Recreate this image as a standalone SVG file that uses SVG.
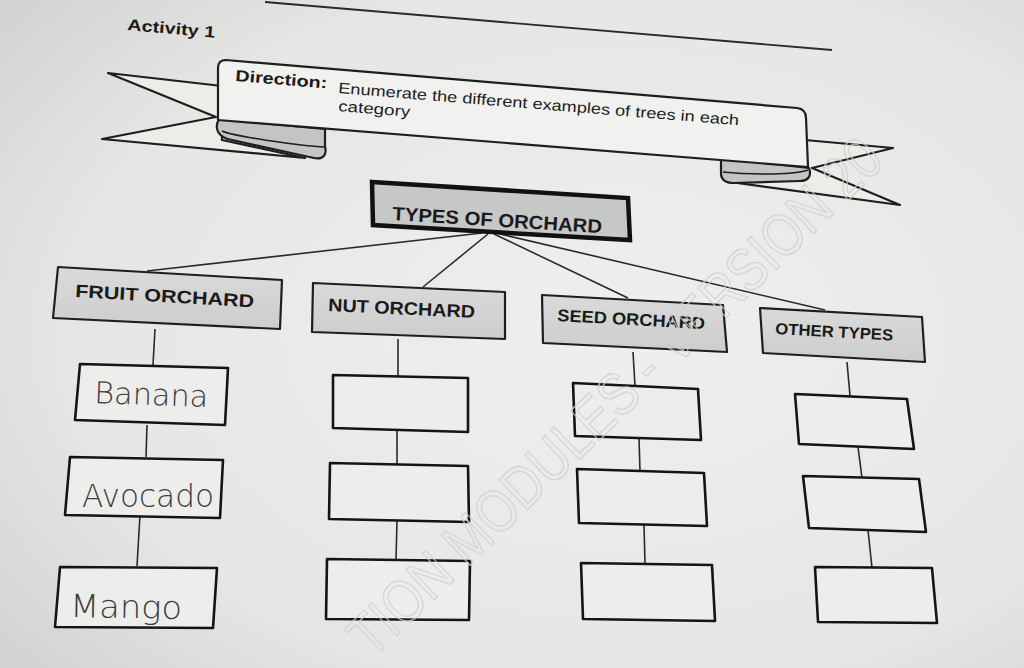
<svg xmlns="http://www.w3.org/2000/svg" width="1024" height="668" viewBox="0 0 1024 668">
<defs>
<radialGradient id="paper" cx="0.6" cy="0.5" r="0.75">
<stop offset="0" stop-color="#efefed"/>
<stop offset="0.7" stop-color="#e6e6e4"/>
<stop offset="1" stop-color="#d4d4d2"/>
</radialGradient>
<linearGradient id="catfill" x1="0" y1="0" x2="0" y2="1">
<stop offset="0" stop-color="#dadada"/>
<stop offset="1" stop-color="#cdcdcd"/>
</linearGradient>
<style>
.lbl{font-family:"Liberation Sans",Arial,sans-serif;font-weight:bold;fill:#1a1a1a}
.txt{font-family:"Liberation Sans",Arial,sans-serif;fill:#1e1e1e}
.hand{font-family:"DejaVu Sans",sans-serif;font-weight:200;fill:#3c3c3c}
.cat{fill:url(#catfill);stroke:#1e1e1e;stroke-width:2.2;stroke-linejoin:round}
.box{fill:#ededeb;stroke:#141414;stroke-width:2.6;stroke-linejoin:round}
.edge{stroke:#2a2a2a;stroke-width:1.6;fill:none}
.ban{stroke:#1e1e1e;stroke-width:2.2;stroke-linejoin:round}
</style>
</defs>
<rect x="0" y="0" width="1024" height="668" fill="url(#paper)"/>

<!-- header -->
<line x1="265" y1="2" x2="832" y2="50" stroke="#2a2a2a" stroke-width="1.8"/>
<text class="lbl" x="127" y="30" font-size="16" transform="rotate(5 127 30)" textLength="88" lengthAdjust="spacingAndGlyphs">Activity 1</text>

<!-- banner -->
<g id="banner">
<polygon class="ban" fill="#ecece9" points="108,73 222,86 222,140 305,158 102,139 216,117"/>
<polygon class="ban" fill="#ecece9" points="805,140 893,148 812,168 900,205 730,182 760,160"/>
<path class="ban" fill="#c4c4c2" d="M219,119 C213,130 220,138 232,140 L314,158 C324,160 327,154 325,146 L325,129 Z"/>
<path d="M222,131 C232,136 300,146 325,147" fill="none" stroke="#1e1e1e" stroke-width="1.6"/>
<path class="ban" fill="#c4c4c2" d="M721,158 L721,173 C721,180 726,183 734,183 L800,181 C808,181 812,176 809,168 Z"/>
<path d="M723,172 C740,174 790,176 808,170" fill="none" stroke="#1e1e1e" stroke-width="1.6"/>
<path class="ban" fill="#f1f1ef" d="M226,60 L797,108 Q806,109 806,118 L808,167 L218,120 L218,68 Q218,60 226,60 Z"/>
<text class="lbl" x="235" y="81" font-size="16" transform="rotate(4.6 235 81)" textLength="92" lengthAdjust="spacingAndGlyphs">Direction:</text>
<text class="txt" x="338" y="93" font-size="15" transform="rotate(4.6 338 93)" textLength="402" lengthAdjust="spacingAndGlyphs">Enumerate the different examples of trees in each</text>
<text class="txt" x="338" y="111" font-size="15" transform="rotate(4.6 338 111)" textLength="72" lengthAdjust="spacingAndGlyphs">category</text>
</g>

<!-- connectors -->
<g id="connectors">
<line class="edge" x1="482" y1="233" x2="147" y2="271"/>
<line class="edge" x1="488" y1="234" x2="423" y2="287"/>
<line class="edge" x1="494" y1="234" x2="628" y2="298"/>
<line class="edge" x1="500" y1="234" x2="825" y2="310"/>
<line class="edge" x1="155" y1="329" x2="153" y2="365"/>
<line class="edge" x1="147" y1="425" x2="146" y2="457"/>
<line class="edge" x1="140" y1="515" x2="137" y2="566"/>
<line class="edge" x1="398" y1="339" x2="398" y2="376"/>
<line class="edge" x1="397" y1="431" x2="397" y2="464"/>
<line class="edge" x1="397" y1="520" x2="396" y2="560"/>
<line class="edge" x1="633" y1="352" x2="635" y2="386"/>
<line class="edge" x1="639" y1="438" x2="640" y2="471"/>
<line class="edge" x1="644" y1="525" x2="645" y2="564"/>
<line class="edge" x1="847" y1="362" x2="850" y2="396"/>
<line class="edge" x1="858" y1="447" x2="862" y2="478"/>
<line class="edge" x1="868" y1="530" x2="872" y2="568"/>
</g>

<!-- root -->
<g id="root">
<polygon points="372,182 628,198 630,240 373,225" fill="#c6c8c7" stroke="#111" stroke-width="4.5" stroke-linejoin="miter"/>
<text class="lbl" x="392" y="220" font-size="19" transform="rotate(3.6 392 220)" textLength="210" lengthAdjust="spacingAndGlyphs">TYPES OF ORCHARD</text>
</g>

<!-- categories -->
<g id="fruit">
<polygon class="cat" points="58,267 282,280 280,329 53,318"/>
<text class="lbl" x="75" y="297" font-size="18" transform="rotate(3.3 75 297)" textLength="179" lengthAdjust="spacingAndGlyphs">FRUIT ORCHARD</text>
</g>
<g id="nut">
<polygon class="cat" points="313,283 505,292 505,339 312,332"/>
<text class="lbl" x="328" y="311" font-size="18" transform="rotate(2.7 328 311)" textLength="147" lengthAdjust="spacingAndGlyphs">NUT ORCHARD</text>
</g>
<g id="seed">
<polygon class="cat" points="542,295 723,305 727,352 543,343"/>
<text class="lbl" x="557" y="321" font-size="17" transform="rotate(3.2 557 321)" textLength="148" lengthAdjust="spacingAndGlyphs">SEED ORCHARD</text>
</g>
<g id="other">
<polygon class="cat" points="760,308 922,317 925,362 763,353"/>
<text class="lbl" x="775" y="334" font-size="16" transform="rotate(3.2 775 334)" textLength="118" lengthAdjust="spacingAndGlyphs">OTHER TYPES</text>
</g>

<!-- fruit column -->
<g id="banana">
<polygon class="box" points="80,364 228,368 225,425 75,420"/>
<text class="hand" x="94" y="403" font-size="30" transform="rotate(2 94 403)" textLength="114" lengthAdjust="spacingAndGlyphs">Banana</text>
</g>
<g id="avocado">
<polygon class="box" points="70,457 223,460 220,518 65,515"/>
<text class="hand" x="82" y="507" font-size="32" textLength="132" lengthAdjust="spacingAndGlyphs">Avocado</text>
</g>
<g id="mango">
<polygon class="box" points="60,567 217,568 213,628 55,627"/>
<text class="hand" x="70" y="617" font-size="32" transform="rotate(1 70 617)" textLength="112" lengthAdjust="spacingAndGlyphs">Mango</text>
</g>

<!-- nut column -->
<g id="nut1"><polygon class="box" points="333,375 468,378 468,432 333,428"/></g>
<g id="nut2"><polygon class="box" points="330,463 468,466 469,522 329,519"/></g>
<g id="nut3"><polygon class="box" points="327,559 470,561 469,620 326,619"/></g>

<!-- seed column -->
<g id="seed1"><polygon class="box" points="573,383 698,389 701,440 575,436"/></g>
<g id="seed2"><polygon class="box" points="577,469 704,473 707,526 579,523"/></g>
<g id="seed3"><polygon class="box" points="581,563 712,565 715,621 583,619"/></g>

<!-- other column -->
<g id="other1"><polygon class="box" points="795,394 907,399 914,449 799,444"/></g>
<g id="other2"><polygon class="box" points="803,476 919,479 926,532 809,528"/></g>
<g id="other3"><polygon class="box" points="815,567 932,568 937,623 818,622"/></g>

<!-- watermark (printed over everything, faint) -->
<text x="372" y="660" transform="rotate(-44 372 660)" font-family="Liberation Sans,Arial,sans-serif" font-size="60" fill="none" stroke="#cfcfcd" stroke-opacity="0.8" stroke-width="1.5" textLength="715" lengthAdjust="spacingAndGlyphs">TION MODULES - VERSION 20</text>
</svg>
